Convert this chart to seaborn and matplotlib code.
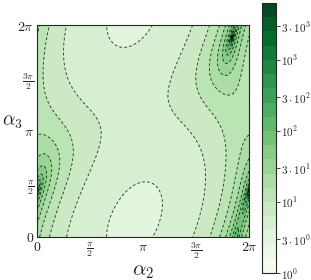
import numpy as np
import matplotlib
matplotlib.use("Agg")
import matplotlib.pyplot as plt
from matplotlib.colors import LogNorm
from matplotlib.ticker import LogLocator, NullFormatter
import seaborn as sns

sns.set_style("ticks")
plt.rcParams["mathtext.fontset"] = "cm"
plt.rcParams["font.family"] = ["DejaVu Serif"]

# field model: weights and phase offsets (units of pi)
weights = [2.31, 3.06, 1.0]
offsets = [0.0, 0.92, 0.155]
scale = 23.6

# contour levels (log10) and colorbar ticks
log_levels = [0.0, 0.2, 0.4, 0.6, 0.8, 1.0, 1.2, 1.4, 1.6, 1.8, 2.0,
              2.2, 2.4, 2.6, 2.8, 3.0, 3.2, 3.4, 3.6, 3.8]
cbar_ticks = [1, 3, 10, 30, 100, 300, 1000, 3000]
cbar_labels = [r"$10^0$", r"$3\cdot10^0$", r"$10^1$", r"$3\cdot10^1$",
               r"$10^2$", r"$3\cdot10^2$", r"$10^3$", r"$3\cdot10^3$"]
angle_ticks = [0, 0.5, 1.0, 1.5, 2.0]
angle_labels = [r"$0$", r"$\frac{\pi}{2}$", r"$\pi$", r"$\frac{3\pi}{2}$", r"$2\pi$"]

a = np.linspace(0, 2 * np.pi, 401)
A2, A3 = np.meshgrid(a, a)
D = (weights[0]
     + weights[1] * np.exp(1j * (A2 - offsets[1] * np.pi))
     + weights[2] * np.exp(1j * (A3 - offsets[2] * np.pi)))
levels = 10 ** np.array(log_levels)
Z = np.clip(scale / np.abs(D), levels[0] * 1.0001, levels[-1] * 0.999)

fig = plt.figure(figsize=(3.11, 2.80), dpi=100)
ax = fig.add_axes([0.119, 0.1536, 0.6817, 0.757])
cax = fig.add_axes([0.842, 0.025, 0.045, 0.964])

cmap = sns.color_palette("Greens", as_cmap=True)
norm = LogNorm(vmin=levels[0], vmax=levels[-1])
cf = ax.contourf(A2, A3, Z, levels=levels, cmap=cmap, norm=norm)
cs = ax.contour(A2, A3, Z, levels=levels, colors="k", linewidths=0.65,
                alpha=0.75)
cs.set_linestyle((0, (3, 2.5)))

ax.set_xlim(0, 2 * np.pi)
ax.set_ylim(0, 2 * np.pi)
ax.set_xticks(np.array(angle_ticks) * np.pi)
ax.set_yticks(np.array(angle_ticks) * np.pi)
ax.set_xticklabels(angle_labels, fontsize=10)
ax.set_yticklabels(angle_labels, fontsize=10)
ax.tick_params(direction="in", length=2.5, width=0.6, pad=2)
for s in ax.spines.values():
    s.set_linewidth(0.8)
ax.set_xlabel(r"$\alpha_2$", fontsize=15)
ax.xaxis.set_label_coords(0.5, -0.12)
ax.set_ylabel(r"$\alpha_3$", fontsize=14, rotation=0, ha="center", va="bottom")
ax.yaxis.set_label_coords(-0.118, 0.5)

cb = fig.colorbar(cf, cax=cax)
cb.set_ticks(cbar_ticks)
cb.set_ticklabels(cbar_labels)
cb.ax.tick_params(labelsize=8, length=3, width=0.6, pad=1)
cb.ax.yaxis.set_minor_locator(LogLocator(base=10, subs=np.arange(2, 10)))
cb.ax.yaxis.set_minor_formatter(NullFormatter())
cb.ax.tick_params(which="minor", direction="in", length=2, width=0.5)
cb.outline.set_linewidth(0.8)

fig.savefig("out.png", dpi=100)
